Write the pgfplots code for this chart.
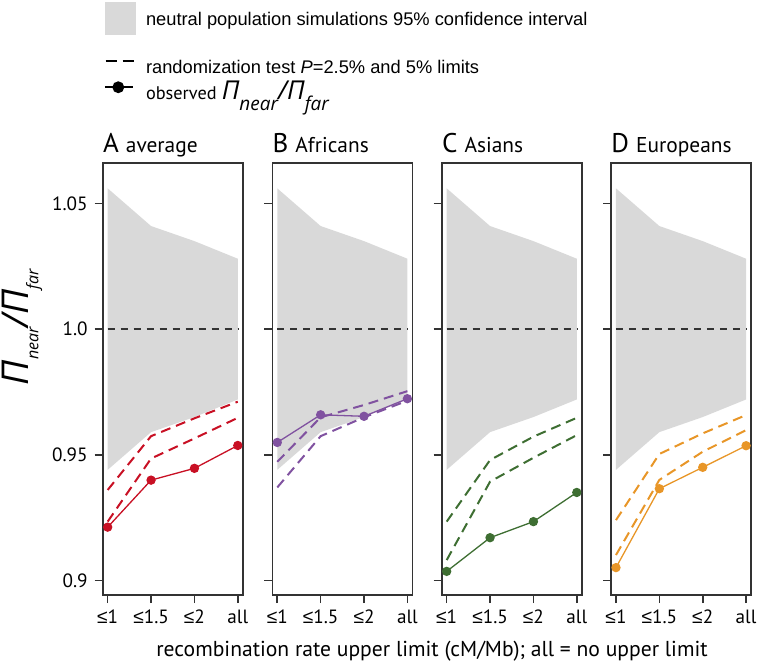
\documentclass[border=0pt]{standalone}
\usepackage{pgfplots}
\pgfplotsset{compat=1.18}
\usepackage{pgfplotstable}
\usepgfplotslibrary{fillbetween}
\usepackage{fontspec}
\setmainfont{PT Sans}
\newfontfamily\arialfont{Liberation Sans}
\newfontfamily\grkfont{Open Sans}

\definecolor{band}{RGB}{217,217,217}
\definecolor{ink}{RGB}{51,51,51}
\definecolor{cA}{RGB}{200,16,36}
\definecolor{cB}{RGB}{128,82,160}
\definecolor{cC}{RGB}{62,110,50}
\definecolor{cD}{RGB}{232,150,40}

% x: 1 = <=1, 2 = <=1.5, 3 = <=2, 4 = all
\pgfplotstableread{
x  hi    lo
1  1.056 0.944
2  1.041 0.959
3  1.035 0.965
4  1.028 0.972
}\band
\pgfplotstableread{
x  obs    up     lo
1  0.9212 0.9360 0.9234
2  0.9399 0.9574 0.9485
3  0.9446 0.9645 0.9565
4  0.9537 0.9711 0.9647
}\tA
\pgfplotstableread{
x  obs    up     lo
1  0.9549 0.9472 0.9370
2  0.9659 0.9649 0.9574
3  0.9653 0.9698 0.9649
4  0.9723 0.9753 0.9715
}\tB
\pgfplotstableread{
x  obs    up     lo
1  0.9036 0.9234 0.9081
2  0.9170 0.9479 0.9393
3  0.9234 0.9572 0.9488
4  0.9350 0.9647 0.9578
}\tC
\pgfplotstableread{
x  obs    up     lo
1  0.9051 0.9240 0.9101
2  0.9365 0.9503 0.9400
3  0.9450 0.9585 0.9512
4  0.9536 0.9658 0.9598
}\tD

\newcommand\lesym{{\arialfont ≤}}
\pgfplotsset{
  panel/.style={
    scale only axis, width=70.15pt, height=216.15pt, anchor=south west,
    xmin=0.885, xmax=4.12, ymin=0.8942, ymax=1.0662,
    xtick={1,2,3,4}, xticklabels={\lesym1,\lesym1.5,\lesym2,all},
    ytick={0.9,0.95,1.0,1.05}, yticklabels={},
    tick pos=left, tick align=outside, major tick length=4pt,
    axis line style={ink, line width=0.8pt},
    tick style={ink, line width=0.8pt},
    tick label style={font=\fontsize{9.6}{11}\selectfont},
  },
  obs/.style={#1, line width=0.65pt, mark=*, mark size=2pt, mark options={solid, fill=#1, draw=#1}},
  lim/.style={#1, line width=1pt, dash pattern=on 5pt off 3pt},
}

\newcommand\panel[2]{%
  \addplot[name path=hi, draw=none, forget plot] table[x=x,y=hi]{\band};
  \addplot[name path=lo, draw=none, forget plot] table[x=x,y=lo]{\band};
  \addplot[fill=band, draw=none, forget plot] fill between[of=hi and lo];
  \addplot[ink, line width=0.9pt, dash pattern=on 3.5pt off 3pt, forget plot] coordinates {(1,1) (4,1)};
  \addplot[lim=#2, forget plot] table[x=x,y=up]{#1};
  \addplot[lim=#2, forget plot] table[x=x,y=lo]{#1};
  \addplot[obs=#2, forget plot] table[x=x,y=obs]{#1};
}
\newcommand\pirat[3]{{\grkfont\itshape\fontsize{#1}{#1}\selectfont Π\raisebox{-#3}{\fontsize{#2}{#2}\selectfont near}/Π\raisebox{-#3}{\fontsize{#2}{#2}\selectfont far}}}
\newcommand\ttl[2]{{\fontsize{13.5}{14}\selectfont #1}\hspace{3.5pt}{\fontsize{10.7}{12}\selectfont #2}}

\begin{document}
\begin{tikzpicture}
\begin{axis}[panel, at={(51.35pt,-297.5pt)},
  yticklabels={0.9,0.95,1.0,1.05},
  ylabel={\pirat{18.5pt}{8pt}{5pt}},
  ylabel style={at={(axis description cs:-0.575,0.62)}, anchor=center},
  legend cell align=left,
  legend style={at={(axis description cs:0.0093,1.371)}, anchor=north west,
    draw=none, fill=none, inner sep=0pt, outer sep=0pt,
    column sep=3pt, row sep=-1.85pt,
    font=\arialfont\fontsize{9.15}{11}\selectfont},
]
\addlegendimage{legend image code/.code={\fill[band] (0pt,-7pt) rectangle (15pt,9pt); \path (0pt,-19.54pt);}}
\addlegendentry{neutral population simulations 95\% confidence interval}
\addlegendimage{legend image code/.code={\draw[black, line width=1pt, dash pattern=on 5.5pt off 3pt] (0pt,3.75pt) -- (14.35pt,3.75pt);}}
\addlegendentry{randomization test \textit{P}=2.5\% and 5\% limits}
\addlegendimage{legend image code/.code={\draw[black, line width=0.9pt, mark=*, mark size=2.5pt, mark repeat=2, mark phase=2] plot coordinates {(-0.35pt,2.3pt) (6.35pt,2.3pt) (13.85pt,2.3pt)};}}
\addlegendentry{{\rmfamily observed} \pirat{13pt}{9.5pt}{5.5pt}}
\panel{\tA}{cA}
\end{axis}

\begin{axis}[panel, at={(136.15pt,-297.5pt)}]
\panel{\tB}{cB}
\end{axis}

\begin{axis}[panel, at={(220.85pt,-297.5pt)}]
\panel{\tC}{cC}
\end{axis}

\begin{axis}[panel, at={(305.5pt,-297.5pt)}]
\panel{\tD}{cD}
\end{axis}

\node[anchor=base west, inner sep=0pt] at (51.35pt,-76.15pt) {\ttl{A}{average}};
\node[anchor=base west, inner sep=0pt] at (136.15pt,-76.15pt) {\ttl{B}{Africans}};
\node[anchor=base west, inner sep=0pt] at (220.85pt,-76.15pt) {\ttl{C}{Asians}};
\node[anchor=base west, inner sep=0pt] at (305.5pt,-76.15pt) {\ttl{D}{Europeans}};

\node[anchor=base, inner sep=0pt] at (216pt,-328pt) {\fontsize{10.8}{12}\selectfont recombination rate upper limit (cM/Mb); all = no upper limit};
\pgfresetboundingbox
\path[use as bounding box] (0,0) rectangle (378.5pt,-332.5pt);
\end{tikzpicture}
\end{document}
